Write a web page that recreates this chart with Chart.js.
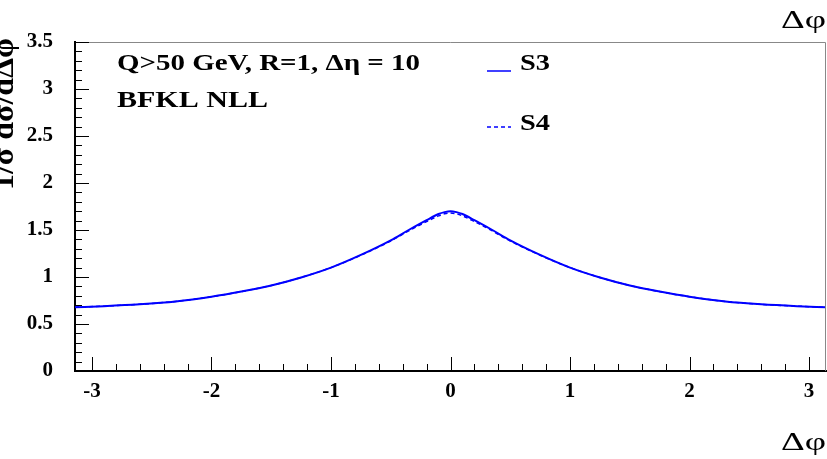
<!DOCTYPE html>
<html>
<head>
<meta charset="utf-8">
<script src="https://cdn.jsdelivr.net/npm/chart.js@4/dist/chart.umd.min.js"></script>
<style>
  html, body { margin: 0; padding: 0; background: #fff; }
  #wrap { width: 827px; height: 459px; position: relative; }
</style>
</head>
<body>
<div id="wrap"><canvas id="chart"></canvas></div>
<script>
// values (delta phi vs normalised cross section)
const dphi = [-3.1416, -2.9, -2.6, -2.3, -2.0, -1.75, -1.5, -1.25, -1.0, -0.75, -0.5, -0.35, -0.2, -0.1, -0.05, 0,
              0.05, 0.1, 0.2, 0.35, 0.5, 0.75, 1.0, 1.25, 1.5, 1.75, 2.0, 2.3, 2.6, 2.9, 3.1416];
const s3 = [0.678, 0.69, 0.71, 0.74, 0.79, 0.845, 0.91, 0.995, 1.10, 1.235, 1.39, 1.50, 1.605, 1.67, 1.69, 1.70,
            1.69, 1.67, 1.605, 1.50, 1.39, 1.235, 1.10, 0.995, 0.91, 0.845, 0.79, 0.74, 0.71, 0.69, 0.678];
const s4 = [0.678, 0.69, 0.71, 0.74, 0.79, 0.845, 0.91, 0.995, 1.10, 1.232, 1.383, 1.49, 1.59, 1.65, 1.672, 1.68,
            1.672, 1.65, 1.59, 1.49, 1.383, 1.232, 1.10, 0.995, 0.91, 0.845, 0.79, 0.74, 0.71, 0.69, 0.678];
const xTicks = [-3, -2, -1, 0, 1, 2, 3];
const yTicks = [0, 0.5, 1, 1.5, 2, 2.5, 3, 3.5];
const seriesNames = ['S3', 'S4'];

const SERIF = "'Liberation Serif', 'Times New Roman', serif";
const toPoints = ys => dphi.map((x, i) => ({ x: x, y: ys[i] }));

// text squeezed/stretched to a given width (ROOT fonts run wide)
function wideText(ctx, txt, x, y, w) {
  const nat = ctx.measureText(txt).width;
  ctx.save();
  ctx.translate(x, y);
  ctx.scale(w / nat, 1);
  ctx.fillText(txt, 0, 0);
  ctx.restore();
}

// inward ticks, frame, legend and labels, drawn ROOT style
const rootDecor = {
  id: 'rootDecor',
  afterDraw(chart) {
    const ctx = chart.ctx;
    const a = chart.chartArea;
    const xs = chart.scales.x, ys = chart.scales.y;
    ctx.save();

    // grey top/right frame
    ctx.strokeStyle = '#888';
    ctx.lineWidth = 1;
    ctx.beginPath();
    ctx.moveTo(a.left, a.top + 0.5);
    ctx.lineTo(a.right - 0.5, a.top + 0.5);
    ctx.lineTo(a.right - 0.5, a.bottom);
    ctx.stroke();

    // x ticks (major 1, minor 0.2)
    ctx.strokeStyle = '#000';
    ctx.beginPath();
    for (let i = -15; i <= 15; i++) {
      const px = Math.round(xs.getPixelForValue(i / 5)) + 0.5;
      const len = (i % 5 === 0) ? 14 : 7;
      ctx.moveTo(px, a.bottom);
      ctx.lineTo(px, a.bottom - len);
    }
    // y ticks (major 0.5, minor 0.1)
    for (let i = 0; i <= 35; i++) {
      const py = Math.round(ys.getPixelForValue(i / 10)) + 0.5;
      const len = (i % 5 === 0) ? 14 : 7;
      ctx.moveTo(a.left, py);
      ctx.lineTo(a.left + len, py);
    }
    ctx.stroke();

    // annotation text
    ctx.fillStyle = '#000';
    ctx.textBaseline = 'alphabetic';
    ctx.textAlign = 'left';
    ctx.font = 'bold 23px ' + SERIF;
    wideText(ctx, 'Q>50 GeV, R=1, \u0394\u03b7 = 10', 117, 70, 303);
    wideText(ctx, 'BFKL NLL', 117, 107, 151);

    // legend
    const legY = [71, 127];
    const txtY = [70, 130];
    chart.data.datasets.forEach((ds, i) => {
      ctx.strokeStyle = ds.borderColor;
      ctx.lineWidth = 1.5;
      ctx.setLineDash(ds.borderDash || []);
      ctx.beginPath();
      ctx.moveTo(487, legY[i]);
      ctx.lineTo(511, legY[i]);
      ctx.stroke();
      ctx.setLineDash([]);
      ctx.fillStyle = '#000';
      wideText(ctx, seriesNames[i], 520, txtY[i], 30);
    });

    // axis titles
    ctx.font = '25px ' + SERIF;
    wideText(ctx, '\u0394\u03c6', 781, 28, 45);
    wideText(ctx, '\u0394\u03c6', 781, 450, 45);

    ctx.translate(13, 190);
    ctx.rotate(-Math.PI / 2);
    ctx.font = 'bold 30px ' + SERIF;
    wideText(ctx, '1/\u03c3 d\u03c3/d\u0394\u03c6', 0, 0, 152);
    ctx.restore();
  }
};

new Chart(document.getElementById('chart'), {
  type: 'line',
  data: {
    datasets: [
      {
        label: seriesNames[0],
        data: toPoints(s3),
        borderColor: '#0000ff',
        borderWidth: 2,
        pointRadius: 0,
        fill: false,
        cubicInterpolationMode: 'monotone'
      },
      {
        label: seriesNames[1],
        data: toPoints(s4),
        borderColor: '#0000ff',
        borderWidth: 1.5,
        borderDash: [4, 3],
        pointRadius: 0,
        fill: false,
        cubicInterpolationMode: 'monotone'
      }
    ]
  },
  options: {
    responsive: true,
    maintainAspectRatio: false,
    animation: false,
    layout: { padding: { top: 42, right: 1, left: 0, bottom: 0 } },
    plugins: {
      legend: { display: false },
      tooltip: { enabled: false }
    },
    scales: {
      x: {
        type: 'linear',
        min: -Math.PI,
        max: Math.PI,
        afterBuildTicks: s => { s.ticks = xTicks.map(v => ({ value: v })); },
        afterFit: s => { s.height = 88; },
        grid: { display: false, drawTicks: false },
        border: { display: true, color: '#000', width: 2 },
        ticks: {
          color: '#000',
          padding: 8,
          maxRotation: 0,
          autoSkip: false,
          font: { family: SERIF, size: 21, weight: 'bold' },
          callback: v => String(v)
        }
      },
      y: {
        min: 0,
        max: 3.5,
        afterBuildTicks: s => { s.ticks = yTicks.map(v => ({ value: v })); },
        afterFit: s => { s.width = 75; },
        grid: { display: false, drawTicks: false },
        border: { display: true, color: '#000', width: 2 },
        ticks: {
          color: '#000',
          padding: 22,
          autoSkip: false,
          font: { family: SERIF, size: 21, weight: 'bold' },
          callback: v => String(v)
        }
      }
    }
  },
  plugins: [rootDecor]
});
</script>
</body>
</html>
